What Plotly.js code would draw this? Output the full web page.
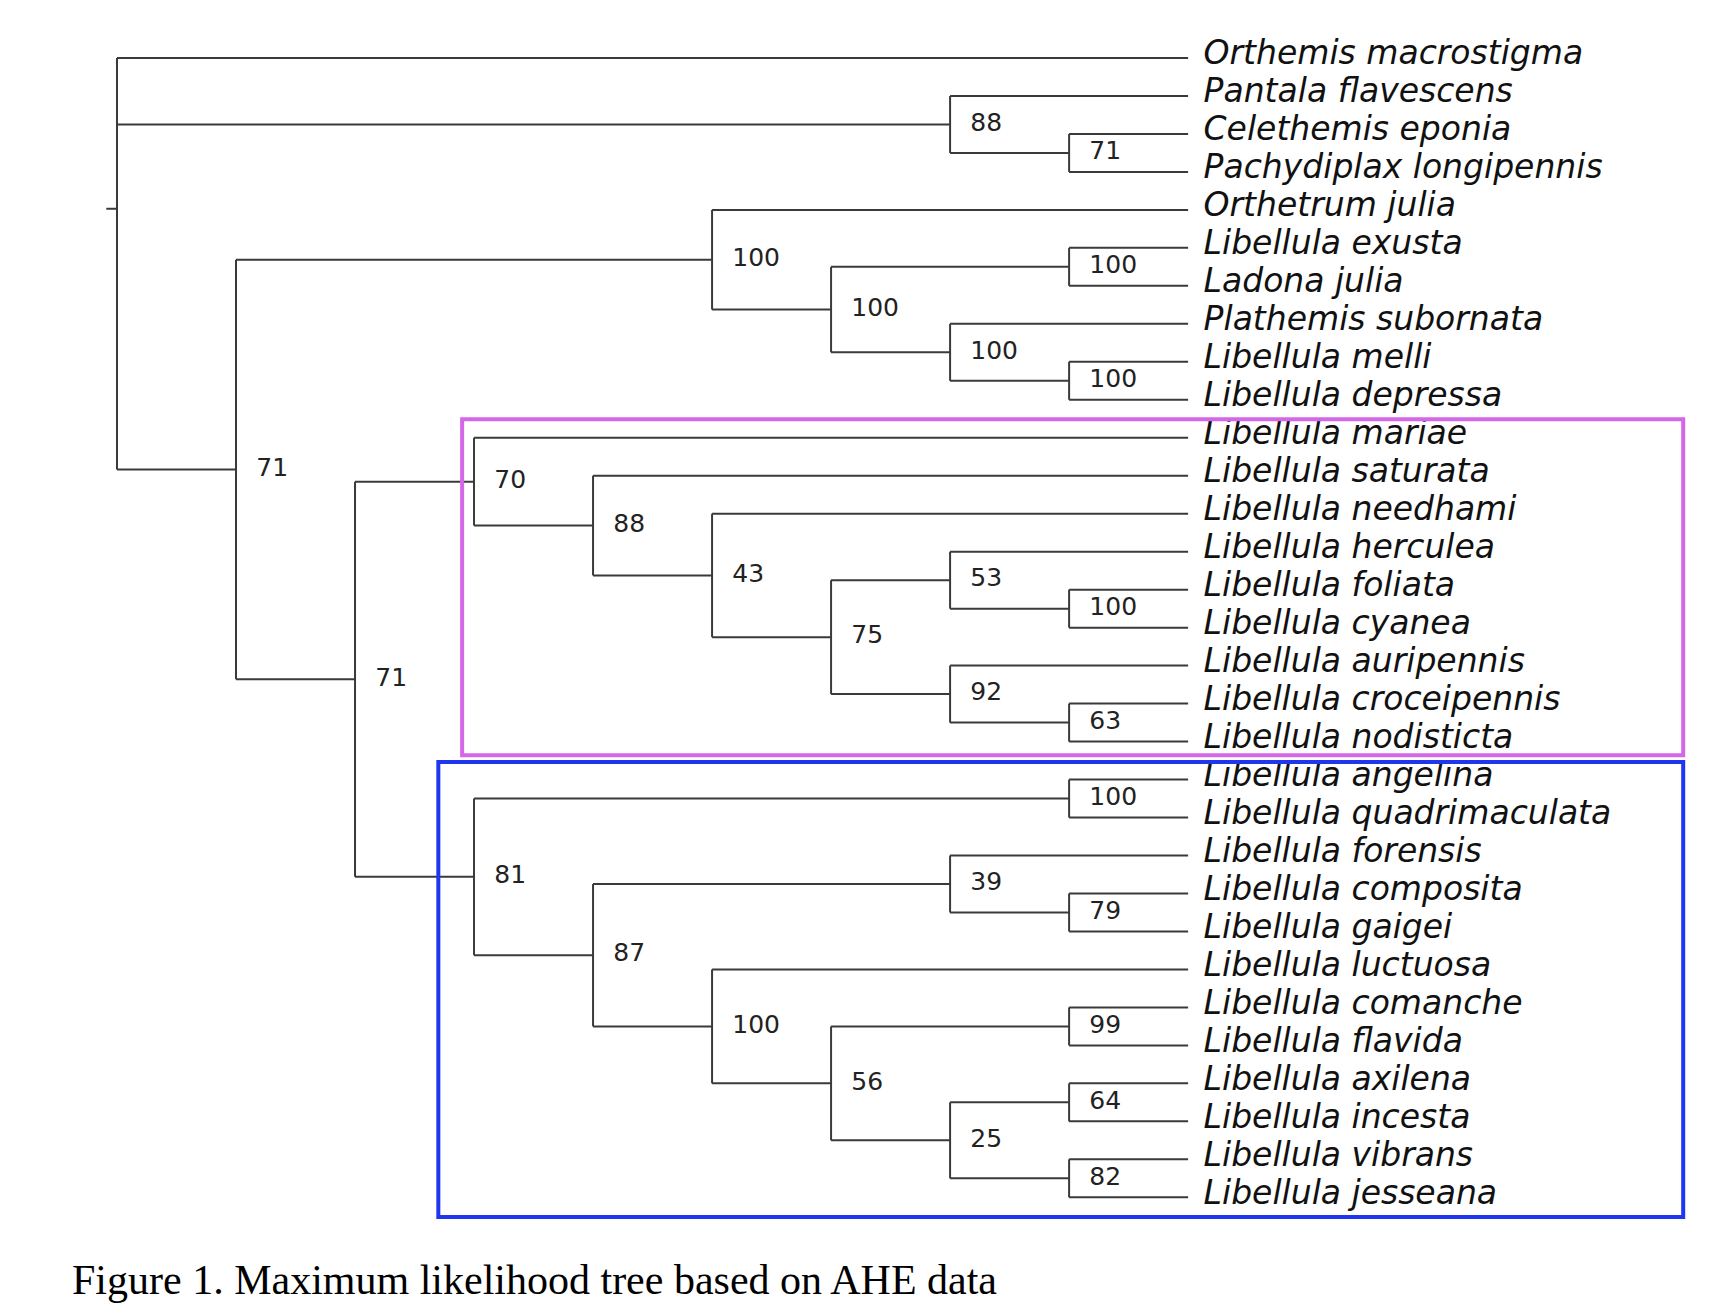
<!DOCTYPE html>
<html>
<head>
<meta charset="utf-8">
<script src="https://cdn.plot.ly/plotly-3.0.1.min.js"></script>
<style>body{margin:0;background:#fff}</style>
</head>
<body>
<div id="graphDiv" style="width:1732px;height:1304px"></div>
<script>
// tips, top to bottom, with the node they hang from
var tipNames = ['Orthemis macrostigma','Pantala flavescens','Celethemis eponia','Pachydiplax longipennis',
  'Orthetrum julia','Libellula exusta','Ladona julia','Plathemis subornata','Libellula melli','Libellula depressa',
  'Libellula mariae','Libellula saturata','Libellula needhami','Libellula herculea','Libellula foliata',
  'Libellula cyanea','Libellula auripennis','Libellula croceipennis','Libellula nodisticta',
  'Libellula angelina','Libellula quadrimaculata','Libellula forensis','Libellula composita','Libellula gaigei',
  'Libellula luctuosa','Libellula comanche','Libellula flavida','Libellula axilena','Libellula incesta',
  'Libellula vibrans','Libellula jesseana'];
var tipParent = ['root','pan','cel','cel','B','E','E','F','G','G','H','J','K','M','N','N','O','P','P',
  'Q','Q','S','T','T','U','W','W','Y','Y','Z','Z'];

// internal nodes
var nodeIds     = ['root','pan','cel','big','B','D','E','F','G','C','H','J','K','L','M','N','O','P','I','Q','R','S','T','U','V','W','X','Y','Z'];
var nodeParent  = [null,'root','pan','root','big','B','D','D','F','big','C','H','J','K','L','M','L','O','C','I','I','R','S','R','U','V','V','X','X'];
var nodeDepth   = [0,7,8,1,5,6,8,7,8,2,3,4,5,6,7,8,7,8,3,8,4,7,8,5,6,8,7,8,8];
var nodeSupport = ['','88','71','71','100','100','100','100','100','71','70','88','43','75','53','100','92','63','81','100','87','39','79','100','56','99','25','64','82'];

var tipDepth = 9;
var caption = 'Figure 1. Maximum likelihood tree based on AHE data';

var depth = {}, yPos = {}, kids = {};
nodeIds.forEach(function(id, i){ depth[id] = nodeDepth[i]; kids[id] = []; });
// children in drawing order: collect by first tip appearance
tipNames.forEach(function(t, i){
  var key = 'tip' + i; depth[key] = tipDepth; yPos[key] = i;
  var c = key, p = tipParent[i];
  while (p) {
    if (kids[p].indexOf(c) < 0) kids[p].push(c);
    c = p; p = nodeParent[nodeIds.indexOf(p)];
  }
});
function getY(id){
  if (yPos[id] !== undefined) return yPos[id];
  var k = kids[id];
  yPos[id] = (getY(k[0]) + getY(k[k.length-1])) / 2;
  return yPos[id];
}
nodeIds.forEach(getY);

var lx = [], ly = [];
nodeIds.forEach(function(id){
  var k = kids[id];
  lx.push(depth[id], depth[id], null);
  ly.push(yPos[k[0]], yPos[k[k.length-1]], null);
  k.forEach(function(c){
    lx.push(depth[id], depth[c], null);
    ly.push(yPos[c], yPos[c], null);
  });
});
// root stub
lx.push(-0.09, 0, null); ly.push(3.97, 3.97, null);

var branches = {x: lx, y: ly, mode: 'lines', line: {color: '#3a3a3a', width: 2}, hoverinfo: 'skip'};
var tips = {x: tipNames.map(function(){ return tipDepth + 0.13; }), y: tipNames.map(function(t, i){ return i - 0.05; }),
  text: tipNames, mode: 'text', textposition: 'middle right',
  textfont: {family: 'DejaVu Sans', size: 33, color: '#111', style: 'italic'}, hoverinfo: 'skip'};
var sup = {x: nodeIds.map(function(id){ return depth[id] + 0.17; }), y: nodeIds.map(function(id){ return yPos[id]; }),
  text: nodeSupport, mode: 'text', textposition: 'middle right',
  textfont: {family: 'DejaVu Sans', size: 25, color: '#222'}, hoverinfo: 'skip'};

var layout = {
  width: 1732, height: 1304, margin: {l: 0, r: 0, t: 0, b: 0},
  paper_bgcolor: '#fff', plot_bgcolor: '#fff', showlegend: false,
  xaxis: {range: [-0.983, 13.57], visible: false, fixedrange: true},
  yaxis: {range: [32.81, -1.527], visible: false, fixedrange: true},
  shapes: [
    {type: 'rect', x0: 2.9, x1: 13.16, y0: 9.51, y1: 18.36, line: {color: '#d466e8', width: 4}},
    {type: 'rect', x0: 2.7, x1: 13.16, y0: 18.54, y1: 30.52, line: {color: '#1f35ee', width: 4}}
  ],
  annotations: [{text: caption, xref: 'paper', yref: 'paper', x: 70/1732, y: 1 - 1280/1304,
    xanchor: 'left', yanchor: 'middle', showarrow: false,
    font: {family: 'Liberation Serif', size: 42, color: '#000'}}]
};

Plotly.newPlot('graphDiv', [branches, sup, tips], layout, {staticPlot: true});
</script>
</body>
</html>
